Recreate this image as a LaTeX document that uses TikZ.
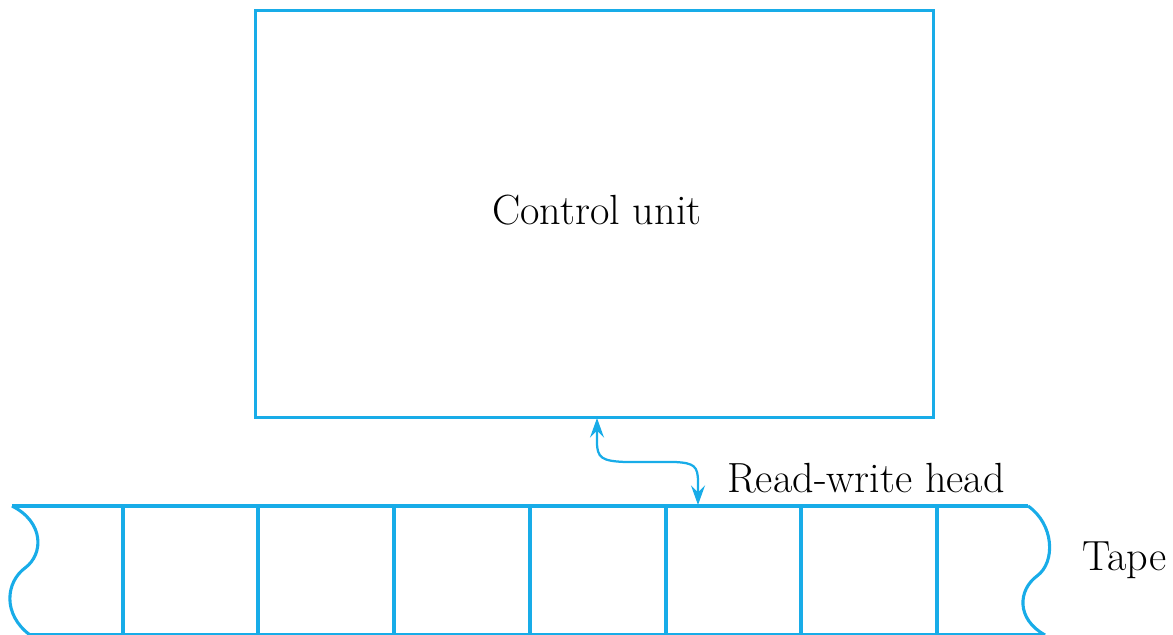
\documentclass[tikz,border=0pt]{standalone}
\usepackage{tikz}
\usetikzlibrary{positioning, arrows.meta}
\definecolor{tapeblue}{RGB}{24,172,232}

\begin{document}
\begin{tikzpicture}[x=0.025cm, y=0.025cm]
    \tikzset{
        wire/.style={draw=tapeblue, line width=2.2pt},
        head arrow/.style={draw=tapeblue, line width=1.6pt, {Stealth[length=14pt,width=10pt,inset=5pt]}-{Stealth[length=14pt,width=10pt,inset=5pt]}},
        txt/.style={font=\fontsize{30}{36}\selectfont, inner sep=0pt}
    }
    \useasboundingbox (0,0) rectangle (1173,634);

    % control unit
    \node (CU) [wire, rectangle, minimum width=16.925cm, minimum height=10.15cm, outer sep=0pt, inner sep=0pt] at (594.5,420) {};
    \node (CUtext) [txt] at (597,424) {Control unit};

    % tape with wavy ends
    \coordinate (TL) at (12,128);
    \coordinate (TR) at (1028,128);
    \coordinate (BL) at (30,-1);
    \coordinate (BR) at (1045,-1);
    \draw[wire] (TL) -- (TR);
    \draw[wire] (BL) -- (BR);
    \draw[wire] (TL) .. controls (44,112) and (44,80) .. (25,66) .. controls (6,52) and (2,20) .. (BL);
    \draw[wire] (TR) .. controls (1054,110) and (1056,72) .. (1037,58) .. controls (1018,44) and (1016,15) .. (BR);
    \foreach \x in {123,258,394,530,666,801,937} {
        \draw[wire] (\x,128) -- (\x,-1);
    }

    % read-write head
    \coordinate (up) at (597,216);
    \coordinate (head) at (698,129);
    \draw[head arrow] (up) -- (597,192) .. controls (597,176) and (602,173) .. (625,172) -- (675,172) .. controls (694,171) and (698,168) .. (698,152) -- (head);

    \node (RW) [txt, anchor=west] at (727,156) {Read-write head};
    \node (TP) [txt, anchor=west] at (1082,74) {Tape};
\end{tikzpicture}
\end{document}
